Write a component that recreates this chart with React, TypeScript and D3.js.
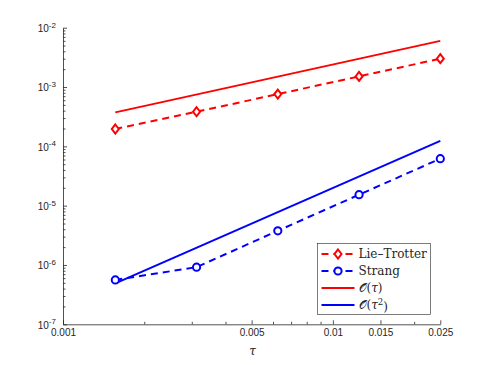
import React, { useEffect, useRef } from "react";
import * as d3 from "d3";

// step sizes and errors
const tau = [0.0015625, 0.003125, 0.00625, 0.0125, 0.025];
const lieTrotter = [1.96e-4, 3.83e-4, 7.6e-4, 1.51e-3, 3.0e-3];
const strang = [5.6e-7, 9.2e-7, 3.77e-6, 1.53e-5, 6.2e-5];

// reference slopes
const refTau = [0.0015625, 0.025];
const orderOne = [3.74e-4, 6.0e-3];
const orderTwo = [4.9e-7, 1.24e-4];

const xMajor = [0.001, 0.005, 0.01, 0.015, 0.025];
const xMajorLabels = ["0.001", "0.005", "0.01", "0.015", "0.025"];
const xMinor = [0.002, 0.003, 0.004, 0.006, 0.007, 0.008, 0.009, 0.02];
const yMajor = [1e-7, 1e-6, 1e-5, 1e-4, 1e-3, 1e-2];
const yExponents = ["-7", "-6", "-5", "-4", "-3", "-2"];

const W = 486;
const H = 365;
const AX = "#262626";
const RED = "#ff0000";
const BLUE = "#0000ff";

const App = () => {
  const svgRef = useRef<SVGSVGElement>(null);

  useEffect(() => {
    const svg = d3.select(svgRef.current);
    svg.selectAll("*").remove();

    const margin = { top: 27.7, right: 45.7, bottom: 40.7, left: 63 };

    const x = d3
      .scaleLog()
      .domain([0.001, 0.025])
      .range([margin.left, W - margin.right]);

    const y = d3
      .scaleLog()
      .domain([1e-7, 1e-2])
      .range([H - margin.bottom, margin.top]);

    const yMinor: number[] = [];
    yMajor.slice(0, -1).forEach((d) => {
      for (let k = 2; k <= 9; k++) yMinor.push(d * k);
    });

    // x axis
    const xAxis = svg
      .append("g")
      .attr("transform", `translate(0,${H - margin.bottom})`)
      .call(
        d3
          .axisBottom(x)
          .tickValues(xMajor)
          .tickFormat((_, i) => xMajorLabels[i])
          .tickSizeInner(-4)
          .tickSizeOuter(0)
          .tickPadding(5)
      );
    svg
      .append("g")
      .attr("transform", `translate(0,${H - margin.bottom})`)
      .call(
        d3
          .axisBottom(x)
          .tickValues(xMinor)
          .tickFormat(() => "")
          .tickSizeInner(-2.5)
          .tickSizeOuter(0)
      )
      .select(".domain")
      .remove();

    // y axis
    const yAxis = svg
      .append("g")
      .attr("transform", `translate(${margin.left},0)`)
      .call(
        d3
          .axisLeft(y)
          .tickValues(yMajor)
          .tickFormat(() => "10")
          .tickSizeInner(-4)
          .tickSizeOuter(0)
      );
    yAxis
      .selectAll<SVGTextElement, number>(".tick text")
      .attr("text-anchor", "start")
      .attr("x", -25.3)
      .attr("dy", "0.38em")
      .append("tspan")
      .attr("dy", "-0.55em")
      .attr("font-size", 8)
      .text((_, i) => yExponents[i]);

    svg
      .append("g")
      .attr("transform", `translate(${margin.left},0)`)
      .call(
        d3
          .axisLeft(y)
          .tickValues(yMinor)
          .tickFormat(() => "")
          .tickSizeInner(-2.5)
          .tickSizeOuter(0)
      )
      .select(".domain")
      .remove();

    svg.selectAll(".domain, .tick line").attr("stroke", AX).attr("stroke-width", 0.8);
    [xAxis, yAxis].forEach((g) =>
      g
        .selectAll(".tick text")
        .attr("fill", AX)
        .attr("font-family", "Liberation Sans, Arial, sans-serif")
        .attr("font-size", 10)
    );

    svg
      .append("text")
      .attr("x", x(0.005) + 1)
      .attr("y", H - 10)
      .attr("text-anchor", "middle")
      .attr("font-family", "DejaVu Serif, serif")
      .attr("font-style", "italic")
      .attr("font-size", 12)
      .attr("fill", AX)
      .text("τ");

    const line = d3
      .line<[number, number]>()
      .x((d) => x(d[0]))
      .y((d) => y(d[1]));

    const series = [
      { values: lieTrotter, color: RED, marker: "diamond" },
      { values: strang, color: BLUE, marker: "circle" },
    ];

    const drawMarker = (
      g: d3.Selection<SVGGElement, unknown, null, undefined>,
      cx: number,
      cy: number,
      kind: string,
      color: string
    ) => {
      if (kind === "diamond") {
        g.append("path")
          .attr("d", `M${cx},${cy - 4.5}L${cx + 3.5},${cy}L${cx},${cy + 4.5}L${cx - 3.5},${cy}Z`)
          .attr("fill", "white")
          .attr("stroke", color)
          .attr("stroke-width", 2);
      } else {
        g.append("circle")
          .attr("cx", cx)
          .attr("cy", cy)
          .attr("r", 3.6)
          .attr("fill", "white")
          .attr("stroke", color)
          .attr("stroke-width", 2);
      }
    };

    const plot = svg.append("g");

    // reference lines
    [
      { values: orderOne, color: RED },
      { values: orderTwo, color: BLUE },
    ].forEach((s) => {
      plot
        .append("path")
        .attr("d", line(refTau.map((t, i) => [t, s.values[i]]))!)
        .attr("fill", "none")
        .attr("stroke", s.color)
        .attr("stroke-width", 2);
    });

    series.forEach((s) => {
      plot
        .append("path")
        .attr("d", line(tau.map((t, i) => [t, s.values[i]]))!)
        .attr("fill", "none")
        .attr("stroke", s.color)
        .attr("stroke-width", 2)
        .attr("stroke-dasharray", "7,5");
      tau.forEach((t, i) => drawMarker(plot, x(t), y(s.values[i]), s.marker, s.color));
    });

    // legend
    const lg = svg.append("g").attr("transform", "translate(317.5,243.5)");
    lg.append("rect")
      .attr("width", 113)
      .attr("height", 71)
      .attr("fill", "white")
      .attr("stroke", AX)
      .attr("stroke-width", 0.6);

    const entries = [
      { color: RED, dash: "7,5", marker: "diamond" },
      { color: BLUE, dash: "7,5", marker: "circle" },
      { color: RED, dash: null, marker: null },
      { color: BLUE, dash: null, marker: null },
    ];
    const rowY = (i: number) => 10.5 + i * 17;
    entries.forEach((e, i) => {
      lg.append("line")
        .attr("x1", 4)
        .attr("x2", 37)
        .attr("y1", rowY(i))
        .attr("y2", rowY(i))
        .attr("stroke", e.color)
        .attr("stroke-width", 2)
        .attr("stroke-dasharray", e.dash);
      if (e.marker) drawMarker(lg, 20.5, rowY(i), e.marker, e.color);
    });

    const txt = (i: number) =>
      lg
        .append("text")
        .attr("x", 41)
        .attr("y", rowY(i))
        .attr("dy", "0.35em")
        .attr("font-family", "DejaVu Serif, serif")
        .attr("font-size", 12)
        .attr("fill", AX);

    txt(0).text("Lie–Trotter");
    txt(1).text("Strang");
    const o1 = txt(2);
    o1.append("tspan").text("𝒪(");
    o1.append("tspan").attr("font-style", "italic").text("τ");
    o1.append("tspan").text(")");
    const o2 = txt(3);
    o2.append("tspan").text("𝒪(");
    o2.append("tspan").attr("font-style", "italic").text("τ");
    o2.append("tspan").attr("dy", "-0.45em").attr("font-size", 8.5).text("2");
    o2.append("tspan").attr("dy", "0.45em").text(")");
  }, []);

  return (
    <svg
      ref={svgRef}
      width={W}
      height={H}
      style={{ position: "absolute", left: 0, top: 0, background: "white" }}
    />
  );
};

export default App;
